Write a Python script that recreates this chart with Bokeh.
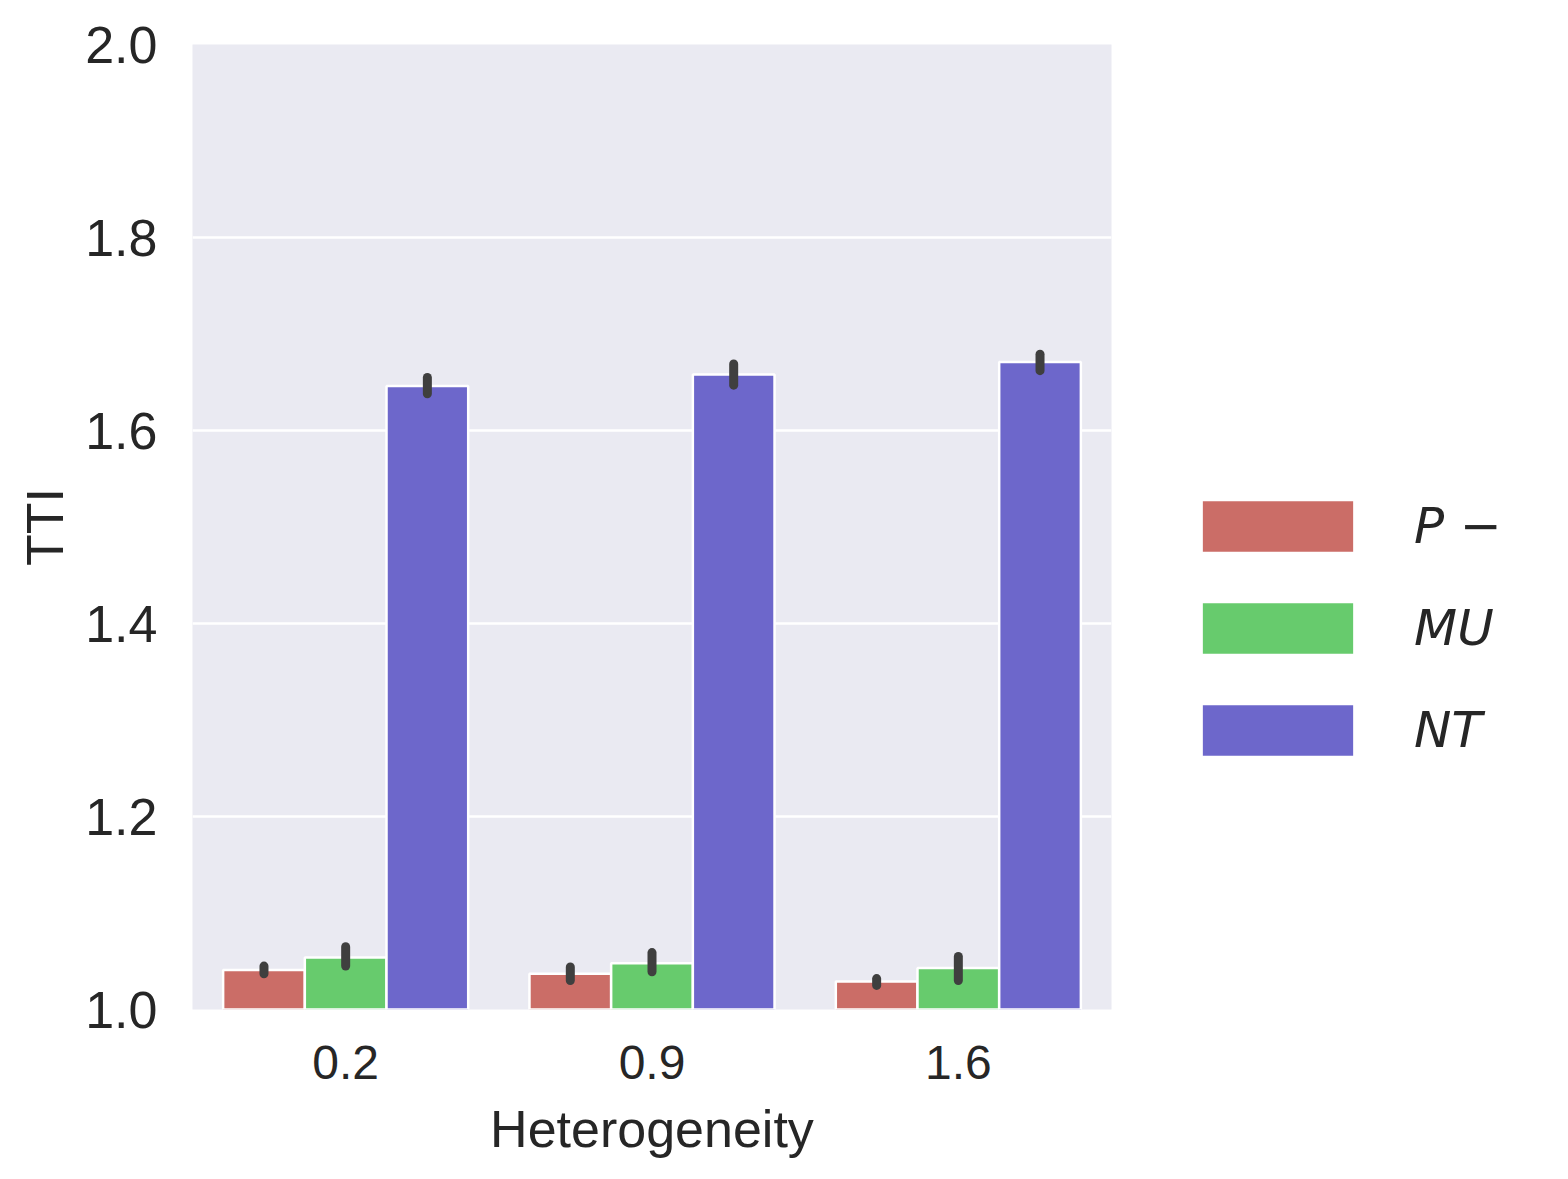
from bokeh.plotting import figure
from bokeh.models import ColumnDataSource, FactorRange, Range1d, Legend, LegendItem, PrintfTickFormatter
from bokeh.transform import dodge
from bokeh.embed import file_html
from bokeh.resources import INLINE

# ---- data ----
hetero = ["0.2", "0.9", "1.6"]
series_names = ["P \u2212", "MU", "NT"]
colors = ["#cb6d67", "#67cb6d", "#6d67cb"]

p_minus = [1.041, 1.037, 1.029]
p_minus_lo = [1.037, 1.030, 1.025]
p_minus_hi = [1.045, 1.044, 1.032]

mu = [1.054, 1.048, 1.043]
mu_lo = [1.045, 1.039, 1.030]
mu_hi = [1.065, 1.059, 1.055]

nt = [1.646, 1.658, 1.671]
nt_lo = [1.638, 1.647, 1.662]
nt_hi = [1.655, 1.669, 1.679]

y_ticks = [1.0, 1.2, 1.4, 1.6, 1.8, 2.0]

FONT = "Liberation Sans"
TXT = "#262626"

p = figure(
    x_range=FactorRange(*hetero, range_padding=0),
    y_range=Range1d(1.0, 2.0),
    frame_width=919, frame_height=965,
    min_border_left=192, min_border_top=44, min_border_right=438, min_border_bottom=154,
    output_backend="svg", toolbar_location=None,
    background_fill_color="#eaeaf2", border_fill_color="white",
)
p.outline_line_color = None

src = ColumnDataSource(dict(
    x=hetero,
    p=p_minus, p_lo=p_minus_lo, p_hi=p_minus_hi,
    m=mu, m_lo=mu_lo, m_hi=mu_hi,
    n=nt, n_lo=nt_lo, n_hi=nt_hi,
))

w = 0.8 / 3
offsets = [-w, 0.0, w]
keys = [("p", "p_lo", "p_hi"), ("m", "m_lo", "m_hi"), ("n", "n_lo", "n_hi")]
renderers = []
for (k, lo, hi), off, c in zip(keys, offsets, colors):
    r = p.vbar(x=dodge("x", off, range=p.x_range), top=k, bottom=0, width=w, source=src,
               fill_color=c, line_color="white", line_width=2.5)
    renderers.append(r)
for (k, lo, hi), off in zip(keys, offsets):
    p.segment(x0=dodge("x", off, range=p.x_range), x1=dodge("x", off, range=p.x_range),
              y0=lo, y1=hi, source=src, line_color="#3f3f3f", line_width=9, line_cap="round")

# grid
p.xgrid.grid_line_color = None
p.ygrid.grid_line_color = "white"
p.ygrid.grid_line_width = 2.5
p.yaxis.ticker = y_ticks
p.yaxis.formatter = PrintfTickFormatter(format="%.1f")

for ax in (p.xaxis[0], p.yaxis[0]):
    ax.axis_line_color = None
    ax.major_tick_line_color = None
    ax.minor_tick_line_color = None
    ax.major_label_text_font = FONT
    ax.major_label_text_color = TXT
    ax.axis_label_text_font = FONT
    ax.axis_label_text_font_size = "52px"
    ax.axis_label_text_color = TXT
    ax.axis_label_text_font_style = "normal"

p.yaxis.major_label_text_font_size = "52px"
p.xaxis.major_label_text_font_size = "48px"
p.xaxis.axis_label = "Heterogeneity"
p.yaxis.axis_label = "TTI"
p.yaxis.major_label_standoff = 29
p.xaxis.major_label_standoff = 30
p.xaxis.axis_label_standoff = 18
p.yaxis.axis_label_standoff = 8

legend = Legend(
    items=[LegendItem(label=n, renderers=[r]) for n, r in zip(series_names, renderers)],
    location=(71, 246),
    glyph_width=191, glyph_height=66, spacing=36, label_standoff=41,
    padding=0, margin=0,
    border_line_alpha=0, background_fill_alpha=0,
    label_text_font="DejaVu Sans", label_text_font_style="italic",
    label_text_font_size="50px", label_text_color=TXT,
)
p.add_layout(legend, "right")

open("out.html", "w").write(file_html(p, INLINE))
